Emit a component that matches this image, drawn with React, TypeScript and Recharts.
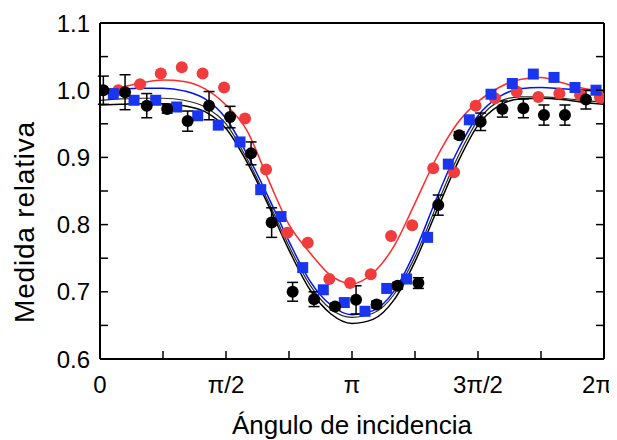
import React from 'react';
import {
  ComposedChart,
  ErrorBar,
  Label,
  Line,
  ReferenceLine,
  Scatter,
  XAxis,
  YAxis
} from 'recharts';

// fitted curves, sampled every 15 degrees
const fitAngles = [0, 15, 30, 45, 60, 75, 90, 105, 120, 135, 150, 165, 180, 195, 210, 225, 240, 255, 270, 285, 300, 315, 330, 345, 360];
const fitBlack = [0.978, 0.979, 0.98, 0.98, 0.977, 0.968, 0.943, 0.893, 0.83, 0.762, 0.703, 0.667, 0.653, 0.659, 0.688, 0.745, 0.818, 0.89, 0.948, 0.977, 0.987, 0.988, 0.986, 0.982, 0.979];
const fitDark = [0.985, 0.987, 0.988, 0.988, 0.985, 0.975, 0.95, 0.898, 0.835, 0.768, 0.71, 0.674, 0.662, 0.668, 0.696, 0.752, 0.826, 0.898, 0.955, 0.983, 0.99, 0.99, 0.988, 0.985, 0.982];
const fitBlue = [1.0, 1.002, 1.003, 1.003, 0.999, 0.987, 0.958, 0.905, 0.842, 0.775, 0.716, 0.68, 0.666, 0.672, 0.701, 0.76, 0.837, 0.908, 0.962, 0.99, 1.002, 1.004, 1.002, 1.0, 0.998];
const fitRed = [0.995, 1.004, 1.011, 1.015, 1.013, 1.002, 0.978, 0.94, 0.868, 0.8, 0.758, 0.724, 0.712, 0.728, 0.768, 0.832, 0.898, 0.95, 0.983, 1.004, 1.016, 1.019, 1.011, 1.003, 0.998];

// measurements
const blackAngles = [2.4, 17.9, 33.4, 48, 62.6, 77.9, 92.9, 107.9, 122.6, 137.6, 152.9, 167.9, 182.9, 197.6, 212.6, 227.4, 241.6, 256.6, 271.9, 287.4, 302.4, 317.1, 332.1, 347.1];
const blackValues = [1.0, 0.997, 0.977, 0.972, 0.954, 0.977, 0.96, 0.906, 0.803, 0.7, 0.689, 0.678, 0.688, 0.681, 0.709, 0.713, 0.829, 0.933, 0.953, 0.972, 0.973, 0.963, 0.963, 0.986];
const blackErrors = [0.021, 0.026, 0.018, 0.006, 0.015, 0.021, 0.016, 0.017, 0.022, 0.014, 0.011, 0.005, 0.021, 0.005, 0.005, 0.008, 0.015, 0.005, 0.013, 0.012, 0.014, 0.015, 0.015, 0.014];

const blueAngles = [9.5, 24.3, 39.8, 54.8, 69.8, 84.5, 100, 114.8, 129.3, 144.8, 159.5, 174.5, 189.3, 204.8, 219, 234, 248.8, 263.8, 279.3, 294.5, 309.5, 324.3, 339.3, 354.3];
const blueValues = [0.995, 0.985, 0.985, 0.975, 0.962, 0.948, 0.923, 0.852, 0.812, 0.736, 0.703, 0.684, 0.671, 0.705, 0.719, 0.781, 0.89, 0.956, 0.994, 1.01, 1.024, 1.019, 1.004, 1.0];

const redAngles = [13.1, 28.6, 43.4, 58.4, 73.3, 88.6, 103.6, 118.6, 133.8, 148.4, 163.8, 178.6, 193.4, 207.9, 223, 238, 252.9, 268.3, 282.1, 297.6, 313.1, 328.1, 342.9, 357.1];
const redValues = [1.0, 1.009, 1.025, 1.034, 1.025, 1.004, 0.958, 0.882, 0.788, 0.773, 0.719, 0.713, 0.726, 0.783, 0.799, 0.884, 0.878, 0.977, 0.988, 0.998, 0.99, 0.995, 0.993, 0.989];

const xTicks = [0, 45, 90, 135, 180, 225, 270, 315, 360];
const xTickLabels = ['0', '', 'π/2', '', 'π', '', '3π/2', '', '2π'];
const yTicks = [0.6, 0.65, 0.7, 0.75, 0.8, 0.85, 0.9, 0.95, 1.0, 1.05, 1.1];
const yTickLabels = ['0.6', '', '0.7', '', '0.8', '', '0.9', '', '1.0', '', '1.1'];

const toPoints = (xs: number[], ys: number[], errs?: number[]) =>
  xs.map((x, i) => ({ x, y: ys[i], err: errs ? errs[i] : 0 }));

const blackFit = toPoints(fitAngles, fitBlack);
const darkFit = toPoints(fitAngles, fitDark);
const blueFit = toPoints(fitAngles, fitBlue);
const redFit = toPoints(fitAngles, fitRed);
const blackData = toPoints(blackAngles, blackValues, blackErrors);
const blueData = toPoints(blueAngles, blueValues);
const redData = toPoints(redAngles, redValues);

const FONT = '"Liberation Sans", Arial, sans-serif';

const XTick = (props: any) => {
  const { x, y, payload } = props;
  const i = xTicks.indexOf(payload.value);
  const label = xTickLabels[i];
  // the last label sits against the page edge
  const shift = i === xTicks.length - 1 ? -7 : 0;
  return (
    <g>
      <line x1={x} x2={x} y1={y} y2={y - 8} stroke="#000" strokeWidth={1.5} />
      {label && (
        <text x={x + shift} y={y + 34} textAnchor="middle" fontSize={24} fill="#000" fontFamily={FONT}>
          {label}
        </text>
      )}
    </g>
  );
};

const YTick = (props: any) => {
  const { x, y, payload } = props;
  const idx = yTicks.findIndex((v) => Math.abs(v - payload.value) < 1e-6);
  const label = yTickLabels[idx];
  return (
    <g>
      <line x1={x} x2={x + 8} y1={y} y2={y} stroke="#000" strokeWidth={1.5} />
      {label && (
        <text x={x - 10} y={y} dy="0.36em" textAnchor="end" fontSize={24} fill="#000" fontFamily={FONT}>
          {label}
        </text>
      )}
    </g>
  );
};

const RightTick = (props: any) => {
  const { x, y } = props;
  return <line x1={x} x2={x - 8} y1={y} y2={y} stroke="#000" strokeWidth={1.5} />;
};

const BlackDot = (p: any) => <circle cx={p.cx} cy={p.cy} r={6} fill="#000" />;
const RedDot = (p: any) => <circle cx={p.cx} cy={p.cy} r={6} fill="#f03c3c" />;
const BlueSquare = (p: any) => <rect x={p.cx - 5.5} y={p.cy - 5.5} width={11} height={11} fill="#1a35f0" />;

export default function App() {
  return (
    <div style={{ width: 609, height: 432, fontFamily: FONT, background: '#fff' }}>
      <ComposedChart
        width={609}
        height={432}
        margin={{ top: 15, right: 0, bottom: 0, left: 0 }}
      >
        <XAxis
          dataKey="x"
          type="number"
          domain={[0, 360]}
          ticks={xTicks}
          interval={0}
          height={81}
          tickSize={0}
          tickMargin={0}
          tickLine={false}
          tick={<XTick />}
          axisLine={{ stroke: '#000', strokeWidth: 2 }}
          allowDataOverflow
        >
          <Label
            content={() => (
              <text x={344} y={426} textAnchor="middle" fontSize={26} fill="#000" fontFamily={FONT}>
                Ángulo de incidencia
              </text>
            )}
          />
        </XAxis>
        <YAxis
          dataKey="y"
          type="number"
          domain={[0.6, 1.1]}
          ticks={yTicks}
          interval={0}
          width={92}
          tickSize={0}
          tickMargin={0}
          tickLine={false}
          tick={<YTick />}
          axisLine={{ stroke: '#000', strokeWidth: 2 }}
          allowDataOverflow
        >
          <Label
            content={() => (
              <text
                x={0}
                y={0}
                transform="translate(26 214) rotate(-90)"
                textAnchor="middle"
                fontSize={28}
                letterSpacing={0.8}
                fill="#000"
                fontFamily={FONT}
              >
                Medida relativa
              </text>
            )}
          />
        </YAxis>
        <YAxis
          yAxisId="right"
          orientation="right"
          type="number"
          domain={[0.6, 1.1]}
          ticks={yTicks}
          interval={0}
          width={13}
          tickSize={0}
          tickMargin={0}
          tickLine={false}
          tick={<RightTick />}
          axisLine={{ stroke: '#000', strokeWidth: 2 }}
          allowDataOverflow
        />
        <ReferenceLine y={1.1} stroke="#000" strokeWidth={2} />

        <Line data={blackFit} dataKey="y" type="monotone" stroke="#000" strokeWidth={1.5} dot={false} isAnimationActive={false} />
        <Line data={darkFit} dataKey="y" type="monotone" stroke="#2a2a1a" strokeWidth={1.2} dot={false} isAnimationActive={false} />
        <Line data={blueFit} dataKey="y" type="monotone" stroke="#0010ff" strokeWidth={1.5} dot={false} isAnimationActive={false} />
        <Line data={redFit} dataKey="y" type="monotone" stroke="#ff2a2a" strokeWidth={1.5} dot={false} isAnimationActive={false} />

        <Scatter data={redData} dataKey="y" shape={RedDot} isAnimationActive={false} />
        <Scatter data={blueData} dataKey="y" shape={BlueSquare} isAnimationActive={false} />
        <Scatter data={blackData} dataKey="y" shape={BlackDot} isAnimationActive={false}>
          <ErrorBar dataKey="err" direction="y" width={5.5} stroke="#000" strokeWidth={1.5} isAnimationActive={false} />
        </Scatter>
      </ComposedChart>
    </div>
  );
}
